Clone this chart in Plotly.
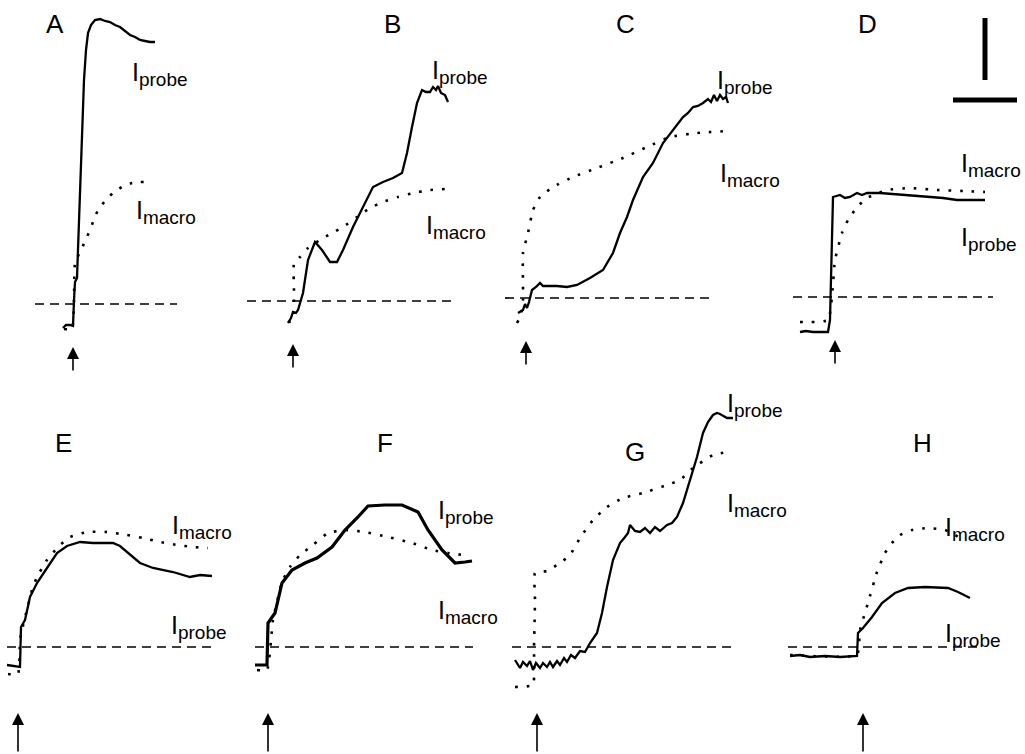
import plotly.graph_objects as go

W, H = 1025, 754

# ---------------- data (time t relative to stimulus arrow, current i relative to baseline; a.u.) -------------
panels = ["A", "B", "C", "D", "E", "F", "G", "H"]

A_probe_t = [-10, -7, -3, 0, 1, 2, 4, 5, 7, 9, 11, 13, 15, 18, 22, 27, 32, 37, 42, 47, 52, 57, 62, 67, 72, 77, 82]
A_probe_i = [-24, -21, -21, -22, 4, 22, 26, 54, 114, 174, 224, 254, 271, 279, 284, 285, 283, 282, 279, 277, 273, 269, 267, 264, 263, 262, 262]
A_macro_t = [-9, -1, 1, 2, 9, 14, 20, 25, 32, 40, 49, 59, 67, 77]
A_macro_i = [-25, -25, 4, 41, 56, 67, 82, 94, 103, 111, 117, 121, 122, 122]
A_base_t = [-38, 104]

B_probe_t = [-5, -2, 0, 3, 5, 10, 15, 22, 29, 37, 44, 50, 60, 70, 80, 90, 100, 109, 114, 119, 124, 129, 133, 137, 140, 143, 145, 148, 152, 155]
B_probe_i = [-22, -17, -11, -12, -9, 8, 41, 59, 51, 39, 39, 51, 74, 94, 114, 119, 123, 128, 148, 174, 198, 211, 209, 209, 214, 211, 215, 208, 206, 199]
B_macro_t = [-5, 0, 1, 1, 7, 15, 27, 39, 50, 64, 77, 90, 105, 120, 137, 152]
B_macro_i = [-21, -19, 8, 38, 44, 53, 61, 68, 74, 84, 93, 99, 104, 108, 111, 112]
B_base_t = [-46, 164]

C_probe_t = [-8, -5, -3, -1, 1, 3, 6, 10, 14, 17, 24, 31, 41, 51, 64, 77, 87, 94, 101, 107, 117, 127, 137, 147, 157, 162, 167, 172, 177, 182, 185, 188, 191, 194, 197, 200, 202]
C_probe_i = [-15, -13, -12, -6, -10, -4, 8, 11, 15, 12, 12, 12, 11, 13, 20, 28, 45, 65, 81, 98, 121, 135, 155, 168, 181, 185, 191, 192, 195, 199, 196, 203, 197, 203, 199, 201, 195]
C_macro_t = [-9, -5, -3, -3, 2, 7, 14, 27, 47, 71, 97, 121, 144, 171, 202]
C_macro_i = [-25, -17, -2, 45, 65, 88, 101, 111, 121, 130, 140, 151, 161, 165, 167]
C_base_t = [-21, 187]

D_probe_t = [-35, -29, -22, -15, -7, -5, -3, -2, 5, 10, 15, 22, 27, 32, 45, 68, 88, 108, 122, 135, 150]
D_probe_i = [-35, -34, -35, -35, -35, -23, 64, 100, 102, 99, 100, 104, 102, 104, 104, 102, 100, 99, 97, 97, 97]
D_macro_t = [-35, -7, 0, 7, 13, 22, 32, 52, 75, 102, 128, 150]
D_macro_i = [-25, -23, 37, 64, 77, 90, 99, 107, 109, 107, 106, 105]
D_base_t = [-42, 158]

E_probe_t = [-11, -4, 2, 3, 7, 12, 19, 29, 39, 49, 62, 75, 95, 102, 109, 122, 135, 155, 172, 182, 194]
E_probe_i = [-18, -19, -20, 20, 27, 50, 64, 79, 94, 101, 105, 104, 104, 101, 95, 84, 79, 75, 70, 72, 71]
E_macro_t = [-10, 0, 2, 4, 14, 19, 29, 40, 52, 69, 89, 109, 125, 142, 159, 175, 190]
E_macro_i = [-27, -27, 7, 17, 57, 70, 87, 100, 110, 115, 115, 112, 109, 105, 102, 100, 99]
E_base_t = [-11, 199]

F_probe_t = [-13, -1, 0, 7, 14, 24, 37, 49, 64, 77, 90, 100, 117, 134, 150, 160, 174, 187, 197, 204]
F_probe_i = [-18, -18, 24, 34, 64, 77, 84, 89, 100, 117, 130, 141, 142, 142, 135, 117, 97, 84, 85, 86]
F_macro_t = [-11, -1, 5, 14, 22, 32, 45, 60, 77, 97, 120, 144, 164, 180, 195]
F_macro_i = [-23, -23, 27, 65, 80, 92, 102, 114, 117, 115, 110, 104, 97, 94, 92]
F_base_t = [-13, 205]

G_probe_t = [-22, -17, -14, -10, -7, -4, -1, 3, 6, 10, 13, 16, 20, 23, 27, 30, 34, 38, 43, 48, 53, 60, 65, 70, 76, 83, 88, 91, 93, 98, 103, 108, 113, 118, 123, 130, 135, 140, 146, 153, 160, 166, 171, 176, 180, 183, 190, 196]
G_probe_i = [-13, -21, -15, -19, -14, -23, -16, -21, -16, -20, -15, -20, -14, -18, -11, -15, -8, -11, -4, -5, 4, 14, 34, 60, 87, 104, 110, 114, 122, 116, 115, 119, 114, 120, 116, 122, 124, 130, 144, 167, 190, 214, 225, 232, 234, 233, 229, 229]
G_macro_t = [-22, -4, -3, -2, -2, 10, 23, 33, 43, 56, 70, 86, 106, 130, 143, 156, 176, 190]
G_macro_i = [-40, -38, 0, 47, 74, 76, 84, 92, 109, 127, 140, 149, 154, 162, 167, 179, 192, 195]
G_base_t = [-25, 198]

H_probe_t = [-73, -63, -53, -38, -23, -6, -5, 0, 9, 19, 32, 45, 62, 85, 95, 107]
H_probe_i = [-9, -8, -10, -9, -10, -9, 14, 19, 30, 44, 54, 59, 60, 59, 55, 49]
H_macro_t = [-73, -6, -3, 5, 14, 22, 29, 37, 49, 65, 82, 92, 100]
H_macro_i = [-8, -8, 17, 44, 75, 94, 104, 112, 117, 119, 117, 112, 107]
H_base_t = [-75, 119]

# ---------------- layout geometry (pixels) ----------------
regions = {  # left, right, top, bottom
    "A": (0, 240, 0, 377), "B": (240, 490, 0, 377), "C": (490, 770, 0, 377), "D": (770, 1025, 0, 377),
    "E": (0, 245, 377, 754), "F": (245, 500, 377, 754), "G": (500, 775, 377, 754), "H": (775, 1025, 377, 754),
}
origins = {  # arrow x, baseline y
    "A": (73, 304), "B": (293, 301), "C": (526, 298), "D": (835, 297),
    "E": (18, 647), "F": (268, 647), "G": (537, 647), "H": (863, 647),
}
letter_pos = {"A": (55, 24), "B": (392, 24), "C": (625, 24), "D": (867, 24),
              "E": (63, 443), "F": (385, 443), "G": (635, 452), "H": (922, 443)}
# left edge / top of the capital "I"
probe_lab = {"A": (131, 62), "B": (431, 60), "C": (716, 70), "D": (960, 227),
             "E": (170, 615), "F": (437, 500), "G": (726, 393), "H": (944, 623)}
macro_lab = {"A": (135, 200), "B": (425, 215), "C": (719, 163), "D": (960, 153),
             "E": (171, 515), "F": (437, 600), "G": (726, 493), "H": (944, 517)}
arrow_span = {"top": (-43, -68), "bottom": (-66, -106)}

data = {
    "A": (A_probe_t, A_probe_i, A_macro_t, A_macro_i, A_base_t),
    "B": (B_probe_t, B_probe_i, B_macro_t, B_macro_i, B_base_t),
    "C": (C_probe_t, C_probe_i, C_macro_t, C_macro_i, C_base_t),
    "D": (D_probe_t, D_probe_i, D_macro_t, D_macro_i, D_base_t),
    "E": (E_probe_t, E_probe_i, E_macro_t, E_macro_i, E_base_t),
    "F": (F_probe_t, F_probe_i, F_macro_t, F_macro_i, F_base_t),
    "G": (G_probe_t, G_probe_i, G_macro_t, G_macro_i, G_base_t),
    "H": (H_probe_t, H_probe_i, H_macro_t, H_macro_i, H_base_t),
}

FONT = "Liberation Sans, Arial, sans-serif"
fig = go.Figure()
annotations = []
shapes = []
layout_axes = {}

for n, p in enumerate(panels, start=1):
    left, right, top, bottom = regions[p]
    x0, y0 = origins[p]
    xs = "" if n == 1 else str(n)
    xa, ya = "x" + xs, "y" + xs
    layout_axes["xaxis" + xs] = dict(domain=[left / W, right / W], range=[left - x0, right - x0],
                                     visible=False, fixedrange=True, anchor=ya)
    layout_axes["yaxis" + xs] = dict(domain=[1 - bottom / H, 1 - top / H], range=[y0 - bottom, y0 - top],
                                     visible=False, fixedrange=True, anchor=xa)
    pt, pi, mt, mi, bt = data[p]
    # baseline
    fig.add_trace(go.Scatter(x=bt, y=[0, 0], mode="lines", xaxis=xa, yaxis=ya,
                             line=dict(color="black", width=1.7, dash="9px,6px"), hoverinfo="skip"))
    # macro current (dotted)
    fig.add_trace(go.Scatter(x=mt, y=mi, mode="lines", xaxis=xa, yaxis=ya,
                             line=dict(color="black", width=2.6, dash="2.6px,9px", shape="spline", smoothing=0.4),
                             hoverinfo="skip"))
    # probe current (solid)
    fig.add_trace(go.Scatter(x=pt, y=pi, mode="lines", xaxis=xa, yaxis=ya,
                             line=dict(color="black", width=3.2 if p == "F" else 2.3),
                             hoverinfo="skip"))
    # panel letter
    lx, ly = letter_pos[p]
    annotations.append(dict(x=lx - x0, y=y0 - ly, xref=xa, yref=ya, text=p, showarrow=False,
                            xanchor="center", yanchor="middle", font=dict(family=FONT, size=26, color="black")))
    # labels
    for (lx, ly), sub in ((probe_lab[p], "probe"), (macro_lab[p], "macro")):
        annotations.append(dict(x=lx - x0, y=y0 - ly, xref=xa, yref=ya,
                                text="I<sub><span style='font-size:19px'>" + sub + "</span></sub>",
                                showarrow=False, xanchor="left", yanchor="top", yshift=6, xshift=-1,
                                font=dict(family=FONT, size=25, color="black")))
    # stimulus arrow
    tip, tail = arrow_span["top" if top == 0 else "bottom"]
    annotations.append(dict(x=0, y=tip, ax=0, ay=tail, xref=xa, yref=ya, axref=xa, ayref=ya,
                            text="", showarrow=True, arrowhead=2, arrowsize=1.5, arrowwidth=1.6,
                            arrowcolor="black", standoff=0, startstandoff=0))

# scale bar (panel D)
shapes.append(dict(type="line", xref="x4", yref="y4", x0=150, x1=150, y0=217, y1=279,
                   line=dict(color="black", width=5)))
shapes.append(dict(type="line", xref="x4", yref="y4", x0=118, x1=182, y0=197, y1=197,
                   line=dict(color="black", width=5)))

fig.update_layout(width=W, height=H, margin=dict(l=0, r=0, t=0, b=0), showlegend=False,
                  paper_bgcolor="white", plot_bgcolor="rgba(0,0,0,0)",
                  annotations=annotations, shapes=shapes, **layout_axes)
fig.write_html("out.html", config={"displayModeBar": False})
